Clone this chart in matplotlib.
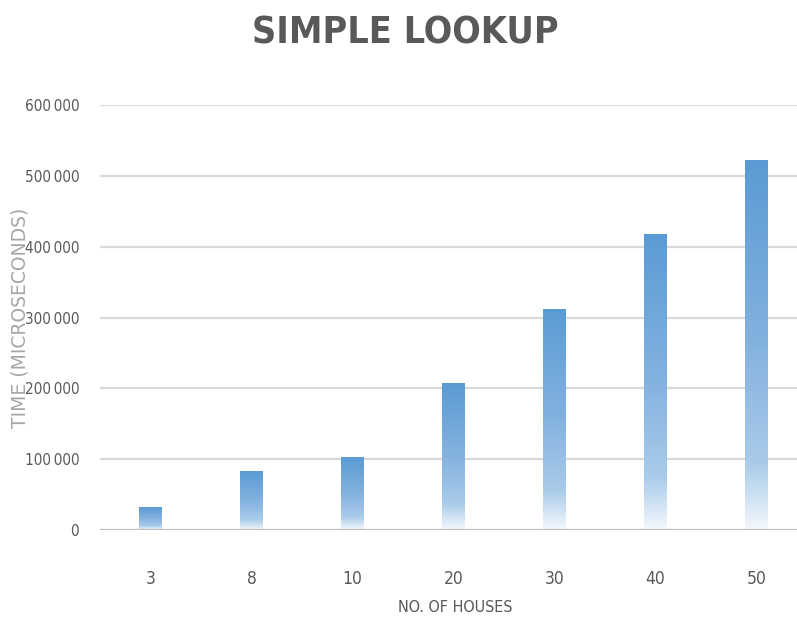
import matplotlib
matplotlib.use("Agg")
import matplotlib.pyplot as plt
import numpy as np
from matplotlib.colors import LinearSegmentedColormap

houses = ["3", "8", "10", "20", "30", "40", "50"]
times = [32000, 82000, 102000, 207000, 312000, 417000, 522000]
y_ticks = [0, 100000, 200000, 300000, 400000, 500000, 600000]
y_tick_labels = ["0", "100\u2009000", "200\u2009000", "300\u2009000",
                 "400\u2009000", "500\u2009000", "600\u2009000"]

text_grey = "#595959"
cond = dict(family="DejaVu Sans", fontstretch="condensed")

# bar fill: white at the bottom, blue at the top
grad = LinearSegmentedColormap.from_list(
    "bar_grad",
    [(0.0, "#f4f8fd"), (0.18, "#a9cbea"), (0.5, "#84b2df"), (1.0, "#5b9bd5")],
)

fig = plt.figure(figsize=(7.97, 6.28), dpi=100)
ax = fig.add_axes([100 / 797, 98 / 628, 707 / 797, 425 / 628])

bar_w = 0.22
x = np.arange(len(houses))
ramp = np.linspace(0, 1, 256).reshape(-1, 1)
for xi, val in zip(x, times):
    ax.imshow(ramp, cmap=grad, origin="lower", aspect="auto",
              extent=[xi - bar_w / 2, xi + bar_w / 2, 0, val], zorder=3)

ax.set_xlim(-0.5, len(houses) - 0.5)
ax.set_ylim(0, 600000)

for yt in y_ticks[1:]:
    ax.axhline(yt, color="#d9d9d9", linewidth=1.6, zorder=1)
ax.axhline(0, color="#bfbfbf", linewidth=1.6, zorder=4)

for side in ["top", "right", "left", "bottom"]:
    ax.spines[side].set_visible(False)

ax.set_xticks(x)
ax.set_xticklabels(houses, fontsize=12.5, color=text_grey, **cond)
ax.set_yticks(y_ticks)
ax.set_yticklabels(y_tick_labels, fontsize=11, color=text_grey, **cond)
ax.tick_params(axis="x", length=0, pad=29)
ax.tick_params(axis="y", length=0, pad=15)

fig.text(20 / 797, 1 - 318 / 628, "TIME (MICROSECONDS)", rotation=90,
         ha="center", va="center", fontsize=13.5, color="#a6a6a6")
fig.text(455 / 797, 1 - 607 / 628, "NO. OF HOUSES", ha="center", va="center",
         fontsize=11.5, color=text_grey, **cond)
fig.text(405 / 797, 1 - 34 / 628, "SIMPLE LOOKUP", ha="center", va="center",
         fontsize=27, fontweight="bold", color=text_grey, **cond)

fig.savefig("out.png", dpi=100)
plt.close(fig)
